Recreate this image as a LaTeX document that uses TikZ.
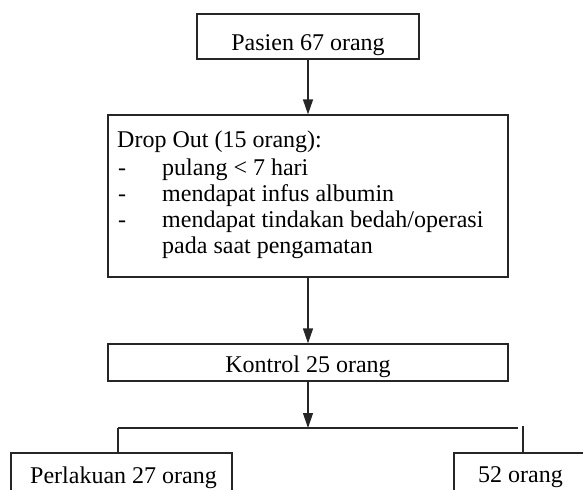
\documentclass[tikz,border=0pt]{standalone}
\usepackage{fontspec}
\setmainfont{Liberation Serif}
\usetikzlibrary{arrows.meta}
\begin{document}
\begin{tikzpicture}[x=1pt,y=-1pt,
  box/.style={draw=black!85,line width=1.2pt,rectangle,inner sep=0pt},
  txt/.style={inner sep=0pt,font=\fontsize{24}{26}\selectfont},
  conn/.style={draw=black!85,line width=1.2pt},
  arr/.style={conn,-{Triangle[length=15pt,width=10pt]}}]
\useasboundingbox (0,0) rectangle (583,490);
% boxes
\node[box,minimum width=222pt,minimum height=45pt] (pasien) at (308,36.5) {};
\node[box,minimum width=400pt,minimum height=162pt] (drop) at (308,196) {};
\node[box,minimum width=400pt,minimum height=37pt] (kontrol) at (308,362.5) {};
% texts
\node[txt,anchor=base] (tpasien) at (308,50) {Pasien 67 orang};
\node[txt,anchor=base west] (t1) at (117,147.5) {Drop Out (15 orang):};
\node[txt,anchor=base west] (d2) at (118,175) {-};
\node[txt,anchor=base west] (t2) at (162,175) {pulang < 7 hari};
\node[txt,anchor=base west] (d3) at (118,201) {-};
\node[txt,anchor=base west] (t3) at (162,201) {mendapat infus albumin};
\node[txt,anchor=base west] (d4) at (118,227) {-};
\node[txt,anchor=base west] (t4) at (162,227) {mendapat tindakan bedah/operasi};
\node[txt,anchor=base west] (t5) at (162,253) {pada saat pengamatan};
\node[txt,anchor=base] (tkontrol) at (308,372) {Kontrol 25 orang};
\node[txt,anchor=base west] (tperl) at (30,483) {Perlakuan 27 orang};
\node[txt,anchor=base west] (t52) at (478,482) {52 orang};
% bottom (cut-off) boxes
\coordinate (pl1) at (11,490);
\coordinate (pl2) at (232,490);
\coordinate (perltl) at (11,453);
\coordinate (perltr) at (232,453);
\coordinate (b52bl) at (454,490);
\coordinate (b52tl) at (454,453);
\coordinate (b52tr) at (583,453);
\draw[conn] (pl1) -- (perltl) -- (perltr) -- (pl2);
\draw[conn] (b52bl) -- (b52tl) -- (b52tr);
% split line
\coordinate (hl) at (118,428);
\coordinate (hr) at (518,428);
\coordinate (hm) at (308,428);
\coordinate (vr) at (523,426);
\coordinate (vrb) at (523,453);
\coordinate (vlb) at (118,453);
\draw[conn] (hl) -- (hr);
\draw[conn] (hl) -- (vlb);
\draw[conn] (vr) -- (vrb);
% arrows
\draw[arr] (pasien.south) -- (drop.north);
\draw[arr] (drop.south) -- (kontrol.north);
\draw[arr] (kontrol.south) -- (hm);
\end{tikzpicture}
\end{document}
